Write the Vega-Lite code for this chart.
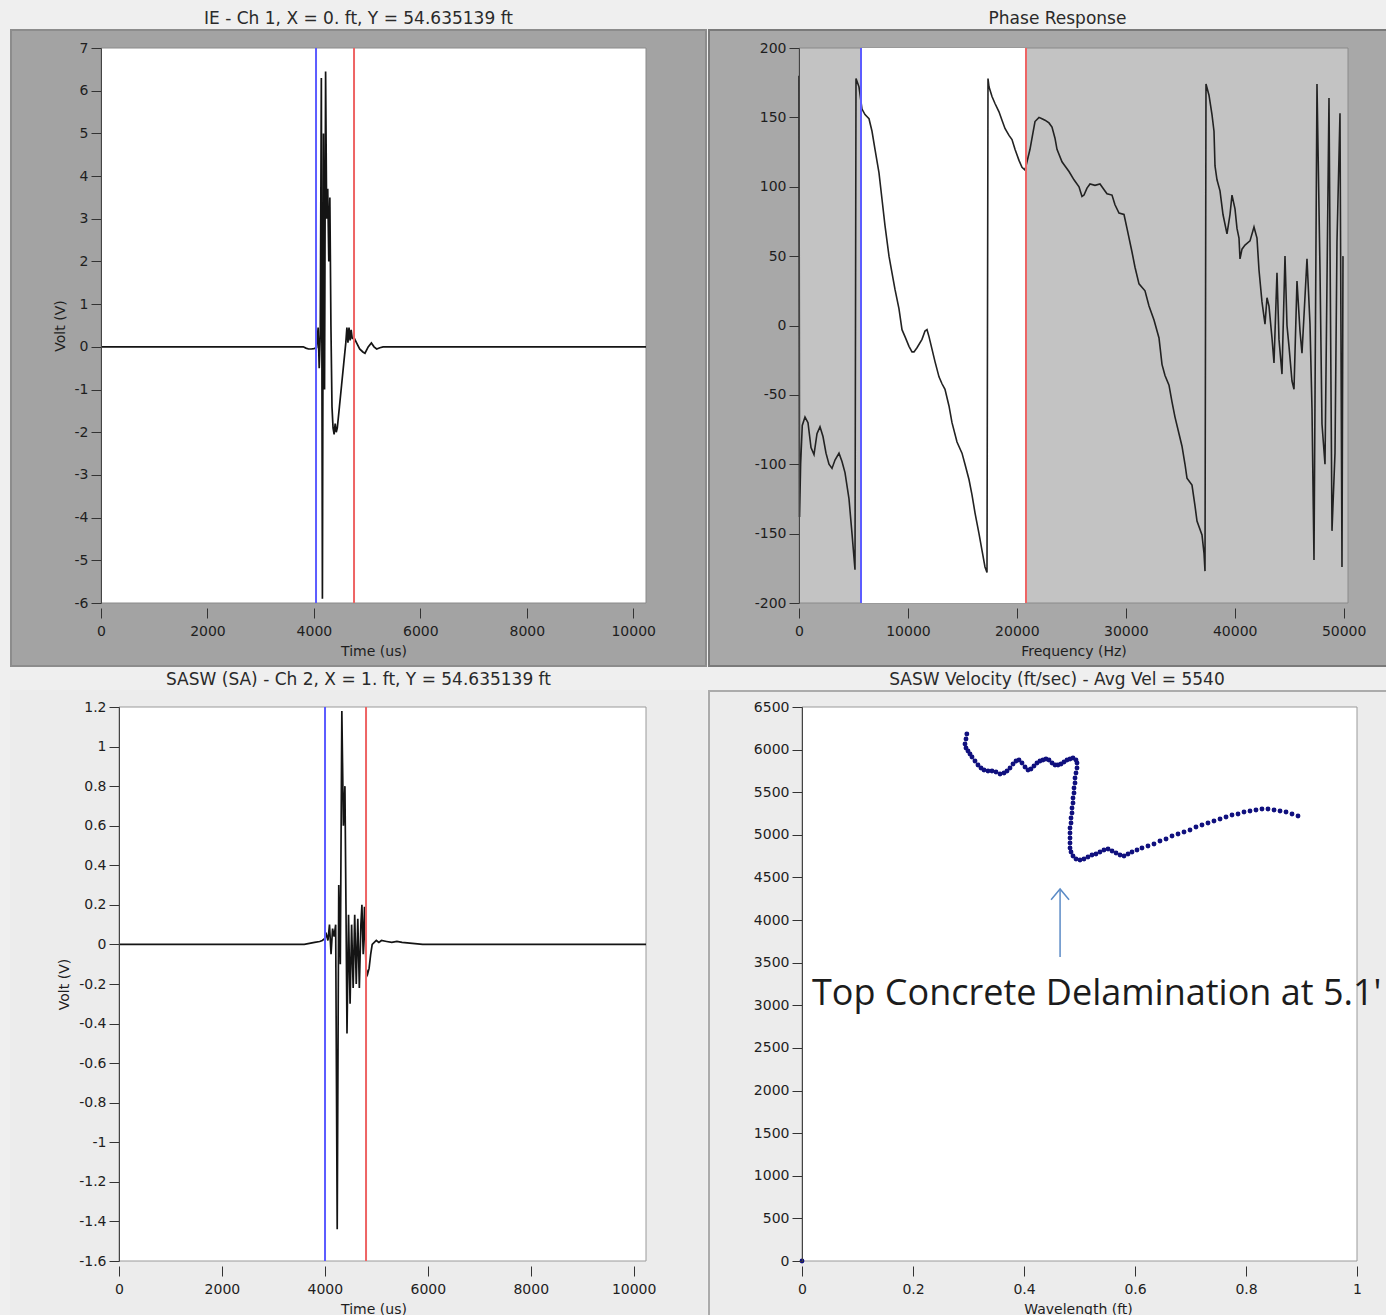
{
"$schema": "https://vega.github.io/schema/vega-lite/v6.json",
"background": "#efefef",
"padding": {"left": 9, "top": 10, "right": 0, "bottom": 0},
"columns": 2,
"align": "each",
"spacing": {"row": 2, "column": 0},
"config": {
  "view": {"stroke": null},
  "axis": {"grid": false, "labelFont": "DejaVu Sans", "labelFontSize": 14, "labelColor": "#1e1e1e", "titleFont": "DejaVu Sans", "titleFontSize": 14, "titleFontWeight": "normal", "titleColor": "#1e1e1e", "tickColor": "#333333", "tickSize": 10, "labelPadding": 3, "domainColor": "#444444", "labelOverlap": false, "labelFlush": false},
  "axisX": {"domain": false, "offset": 5, "labelPadding": 6, "titlePadding": 6},
  "axisY": {"titlePadding": 7, "labelOverlap": false},
  "axisQuantitative": {"labelOverlap": false},
  "title": {"font": "DejaVu Sans", "fontSize": 17, "fontWeight": "normal", "color": "#2a2a2a", "offset": 1}
},
"concat": [
  {"width": 545, "height": 555,
   "title": {"text": "IE - Ch 1, X = 0. ft, Y = 54.635139 ft", "dx": -15},
   "layer": [
    {"data": {"values": [{}]}, "mark": {"type": "rect", "color": "#a3a3a3", "stroke": "#8c8c8c", "strokeWidth": 2},
     "encoding": {"x": {"datum": -1691, "type": "quantitative", "scale": {"domain": [0, 10240], "nice": false, "zero": false}, "axis": {"zindex": 1, "labelOverlap": false, "title": "Time (us)", "values": [0,2000,4000,6000,8000,10000], "format": "d"}}, "x2": {"datum": 11367},
                  "y": {"datum": -7.4757, "type": "quantitative", "scale": {"domain": [-6, 7], "nice": false, "zero": false}, "axis": {"zindex": 1, "labelOverlap": false, "title": "Volt (V)", "values": [-6,-5,-4,-3,-2,-1,0,1,2,3,4,5,6,7], "format": "d", "labelExpr": "replace(datum.label, '\u2212', '-')"}}, "y2": {"datum": 7.4216}}},
    {"data": {"values": [{}]}, "mark": {"type": "rect", "color": "#ffffff", "stroke": "#8a8a8a", "strokeWidth": 1},
     "encoding": {"x": {"datum": 0, "type": "quantitative", "scale": {"domain": [0, 10240], "nice": false, "zero": false}}, "x2": {"datum": 10240},
                  "y": {"datum": -6, "type": "quantitative", "scale": {"domain": [-6, 7], "nice": false, "zero": false}}, "y2": {"datum": 7}}},
    {"data": {"values": [
      {"t":0,"v":0},{"t":3800,"v":0},{"t":3850,"v":-0.03},{"t":3900,"v":-0.05},{"t":3950,"v":-0.05},{"t":4000,"v":-0.04},{"t":4050,"v":-0.02},{"t":4080,"v":0.45},{"t":4100,"v":-0.5},{"t":4120,"v":0.3},{"t":4140,"v":6.3},{"t":4160,"v":-5.9},{"t":4180,"v":5.0},{"t":4200,"v":-1.0},{"t":4220,"v":6.45},{"t":4240,"v":3.0},{"t":4260,"v":3.7},{"t":4280,"v":2.0},{"t":4300,"v":3.5},{"t":4320,"v":0.5},{"t":4340,"v":-1.4},{"t":4360,"v":-1.9},{"t":4380,"v":-2.05},{"t":4400,"v":-1.8},{"t":4420,"v":-2.0},{"t":4440,"v":-1.9},{"t":4480,"v":-1.4},{"t":4520,"v":-0.9},{"t":4560,"v":-0.4},{"t":4600,"v":0.1},{"t":4620,"v":0.45},{"t":4640,"v":0.1},{"t":4660,"v":0.45},{"t":4680,"v":0.15},{"t":4700,"v":0.4},{"t":4720,"v":0.2},{"t":4760,"v":0.2},{"t":4800,"v":0.1},{"t":4860,"v":-0.05},{"t":4920,"v":-0.12},{"t":4960,"v":-0.15},{"t":5020,"v":0.0},{"t":5080,"v":0.09},{"t":5130,"v":0.0},{"t":5180,"v":-0.05},{"t":5240,"v":-0.02},{"t":5300,"v":0.0},{"t":10240,"v":0}
     ]},
     "mark": {"type": "line", "color": "#141414", "strokeWidth": 1.7},
     "encoding": {"x": {"field": "t", "type": "quantitative", "scale": {"domain": [0, 10240], "nice": false, "zero": false}},
                  "y": {"field": "v", "type": "quantitative", "scale": {"domain": [-6, 7], "nice": false, "zero": false}}}},
    {"data": {"values": [{"t": 4040}]}, "mark": {"type": "rule", "color": "#5c5cff", "strokeWidth": 2},
     "encoding": {"x": {"field": "t", "type": "quantitative", "scale": {"domain": [0, 10240], "nice": false, "zero": false}}}},
    {"data": {"values": [{"t": 4754}]}, "mark": {"type": "rule", "color": "#ee6464", "strokeWidth": 2},
     "encoding": {"x": {"field": "t", "type": "quantitative", "scale": {"domain": [0, 10240], "nice": false, "zero": false}}}}
   ]},
  {"width": 549, "height": 555,
   "title": {"text": "Phase Response", "dx": -16},
   "layer": [
    {"data": {"values": [{}]}, "mark": {"type": "rect", "color": "#a8a8a8", "stroke": "#7a7a7a", "strokeWidth": 2},
     "encoding": {"x": {"datum": -8262, "type": "quantitative", "scale": {"domain": [0, 50400], "nice": false, "zero": false}, "axis": {"zindex": 1, "labelOverlap": false, "title": "Frequency (Hz)", "values": [0,10000,20000,30000,40000,50000], "format": "d"}}, "x2": {"datum": 54071},
                  "y": {"datum": -245.41, "type": "quantitative", "scale": {"domain": [-200, 200], "nice": false, "zero": false}, "axis": {"zindex": 1, "labelOverlap": false, "title": null, "values": [-200,-150,-100,-50,0,50,100,150,200], "format": "d", "labelExpr": "replace(datum.label, '\u2212', '-')"}}, "y2": {"datum": 212.97}}},
    {"data": {"values": [{}]}, "mark": {"type": "rect", "color": "#c3c3c3", "stroke": "#8a8a8a", "strokeWidth": 1},
     "encoding": {"x": {"datum": 0, "type": "quantitative", "scale": {"domain": [0, 50400], "nice": false, "zero": false}}, "x2": {"datum": 50400},
                  "y": {"datum": -200, "type": "quantitative", "scale": {"domain": [-200, 200], "nice": false, "zero": false}}, "y2": {"datum": 200}}},
    {"data": {"values": [{}]}, "mark": {"type": "rect", "color": "#ffffff"},
     "encoding": {"x": {"datum": 5692, "type": "quantitative", "scale": {"domain": [0, 50400], "nice": false, "zero": false}}, "x2": {"datum": 20839},
                  "y": {"datum": -200, "type": "quantitative", "scale": {"domain": [-200, 200], "nice": false, "zero": false}}, "y2": {"datum": 200}}},
    {"data": {"values": [
      {"f":0,"p":180},{"f":50,"p":-138},{"f":150,"p":-100},{"f":300,"p":-72},{"f":551,"p":-66},{"f":826,"p":-70},{"f":1102,"p":-88},{"f":1377,"p":-93},{"f":1652,"p":-78},{"f":1928,"p":-73},{"f":2203,"p":-80},{"f":2479,"p":-92},{"f":2754,"p":-100},{"f":3029,"p":-103},{"f":3305,"p":-97},{"f":3672,"p":-92},{"f":3947,"p":-98},{"f":4223,"p":-106},{"f":4590,"p":-125},{"f":4866,"p":-150},{"f":5141,"p":-176},{"f":5233,"p":178},{"f":5508,"p":172},{"f":5784,"p":156},{"f":6059,"p":152},{"f":6426,"p":149},{"f":6702,"p":140},{"f":6977,"p":127},{"f":7344,"p":110},{"f":7620,"p":91},{"f":7895,"p":72},{"f":8262,"p":50},{"f":8538,"p":38},{"f":8813,"p":26},{"f":9180,"p":12},{"f":9456,"p":-3},{"f":9731,"p":-8},{"f":10098,"p":-15},{"f":10374,"p":-19},{"f":10557,"p":-19},{"f":10833,"p":-16},{"f":11292,"p":-10},{"f":11567,"p":-4},{"f":11751,"p":-3},{"f":11934,"p":-8},{"f":12210,"p":-17},{"f":12485,"p":-26},{"f":12852,"p":-37},{"f":13128,"p":-42},{"f":13403,"p":-46},{"f":13770,"p":-58},{"f":14046,"p":-70},{"f":14505,"p":-84},{"f":14964,"p":-92},{"f":15239,"p":-100},{"f":15606,"p":-111},{"f":15882,"p":-122},{"f":16157,"p":-135},{"f":16524,"p":-150},{"f":16800,"p":-162},{"f":17075,"p":-174},{"f":17259,"p":-178},{"f":17351,"p":178},{"f":17442,"p":172},{"f":17718,"p":165},{"f":17993,"p":160},{"f":18360,"p":154},{"f":18636,"p":148},{"f":18911,"p":142},{"f":19278,"p":137},{"f":19554,"p":134},{"f":19829,"p":127},{"f":20196,"p":119},{"f":20472,"p":114},{"f":20747,"p":112},{"f":20931,"p":118},{"f":21206,"p":127},{"f":21390,"p":135},{"f":21665,"p":147},{"f":22032,"p":150},{"f":22308,"p":149},{"f":22583,"p":148},{"f":22950,"p":146},{"f":23226,"p":143},{"f":23501,"p":135},{"f":23685,"p":127},{"f":24144,"p":118},{"f":24420,"p":115},{"f":24787,"p":111},{"f":25246,"p":105},{"f":25705,"p":100},{"f":25980,"p":93},{"f":26164,"p":94},{"f":26439,"p":99},{"f":26715,"p":102},{"f":27173,"p":101},{"f":27632,"p":102},{"f":28091,"p":97},{"f":28275,"p":95},{"f":28734,"p":94},{"f":29009,"p":87},{"f":29377,"p":81},{"f":29836,"p":80},{"f":30111,"p":70},{"f":30570,"p":53},{"f":30846,"p":42},{"f":31213,"p":30},{"f":31764,"p":25},{"f":32131,"p":14},{"f":32590,"p":4},{"f":33049,"p":-9},{"f":33324,"p":-28},{"f":33600,"p":-36},{"f":33967,"p":-43},{"f":34242,"p":-55},{"f":34518,"p":-66},{"f":34885,"p":-78},{"f":35160,"p":-87},{"f":35436,"p":-100},{"f":35619,"p":-110},{"f":36078,"p":-115},{"f":36354,"p":-130},{"f":36537,"p":-141},{"f":36996,"p":-151},{"f":37180,"p":-164},{"f":37272,"p":-177},{"f":37364,"p":174},{"f":37639,"p":166},{"f":37914,"p":152},{"f":38098,"p":140},{"f":38190,"p":115},{"f":38373,"p":105},{"f":38649,"p":97},{"f":38925,"p":80},{"f":39291,"p":66},{"f":39567,"p":80},{"f":39750,"p":94},{"f":40026,"p":84},{"f":40209,"p":70},{"f":40393,"p":63},{"f":40485,"p":48},{"f":40668,"p":55},{"f":40944,"p":58},{"f":41403,"p":61},{"f":41770,"p":71},{"f":42045,"p":63},{"f":42229,"p":40},{"f":42504,"p":17},{"f":42780,"p":1},{"f":42963,"p":20},{"f":43147,"p":14},{"f":43422,"p":-9},{"f":43606,"p":-27},{"f":43881,"p":38},{"f":44065,"p":-10},{"f":44340,"p":-35},{"f":44616,"p":50},{"f":44799,"p":0},{"f":44983,"p":-15},{"f":45258,"p":-40},{"f":45442,"p":-46},{"f":45717,"p":32},{"f":45993,"p":-4},{"f":46176,"p":-20},{"f":46360,"p":7},{"f":46635,"p":48},{"f":46911,"p":1},{"f":47094,"p":-60},{"f":47278,"p":-169},{"f":47553,"p":174},{"f":47829,"p":40},{"f":48012,"p":-71},{"f":48288,"p":-100},{"f":48655,"p":164},{"f":48930,"p":-148},{"f":49206,"p":-92},{"f":49389,"p":60},{"f":49665,"p":153},{"f":49848,"p":-174},{"f":49940,"p":50}
     ]},
     "mark": {"type": "line", "color": "#222222", "strokeWidth": 1.6},
     "encoding": {"x": {"field": "f", "type": "quantitative", "scale": {"domain": [0, 50400], "nice": false, "zero": false}},
                  "y": {"field": "p", "type": "quantitative", "scale": {"domain": [-200, 200], "nice": false, "zero": false}}}},
    {"data": {"values": [{"f": 5692}]}, "mark": {"type": "rule", "color": "#5c5cff", "strokeWidth": 2},
     "encoding": {"x": {"field": "f", "type": "quantitative", "scale": {"domain": [0, 50400], "nice": false, "zero": false}}}},
    {"data": {"values": [{"f": 20839}]}, "mark": {"type": "rule", "color": "#ee6464", "strokeWidth": 2},
     "encoding": {"x": {"field": "f", "type": "quantitative", "scale": {"domain": [0, 50400], "nice": false, "zero": false}}}}
   ]},
  {"width": 545, "height": 554,
   "title": {"text": "SASW (SA) - Ch 2, X = 1. ft, Y = 54.635139 ft", "dx": -15},
   "layer": [
    {"data": {"values": [{}]}, "mark": {"type": "rect", "color": "#ececec", "stroke": "#ececec", "strokeWidth": 2},
     "encoding": {"x": {"datum": -2098.6, "type": "quantitative", "scale": {"domain": [-349.8, 10240], "nice": false, "zero": false}, "axis": {"zindex": 1, "labelOverlap": false, "title": "Time (us)", "values": [0,2000,4000,6000,8000,10000], "format": "d"}}, "x2": {"datum": 11405.8},
                  "y": {"datum": -1.9437, "type": "quantitative", "scale": {"domain": [-1.6, 1.2], "nice": false, "zero": false}, "axis": {"zindex": 1, "labelOverlap": false, "labelSeparation": -60, "tickCount": 15, "offset": -18, "title": "Volt (V)", "values": [-1.6,-1.4,-1.2,-1,-0.8,-0.6,-0.4,-0.2,0,0.2,0.4,0.6,0.8,1,1.2], "format": ".1~f", "labelExpr": "replace(datum.label, '\u2212', '-')"}}, "y2": {"datum": 1.2809}}},
    {"data": {"values": [{}]}, "mark": {"type": "rect", "color": "#ffffff", "stroke": "#9a9a9a", "strokeWidth": 1},
     "encoding": {"x": {"datum": 0, "type": "quantitative", "scale": {"domain": [-349.8, 10240], "nice": false, "zero": false}}, "x2": {"datum": 10240},
                  "y": {"datum": -1.6, "type": "quantitative", "scale": {"domain": [-1.6, 1.2], "nice": false, "zero": false}}, "y2": {"datum": 1.2}}},
    {"data": {"values": [
      {"t":0,"v":0},{"t":3600,"v":0},{"t":3700,"v":0.005},{"t":3800,"v":0.01},{"t":3900,"v":0.015},{"t":3950,"v":0.02},{"t":4000,"v":0.03},{"t":4030,"v":0.05},{"t":4060,"v":0.02},{"t":4090,"v":0.1},{"t":4120,"v":-0.05},{"t":4150,"v":0.08},{"t":4180,"v":0.04},{"t":4210,"v":0.1},{"t":4240,"v":-1.44},{"t":4270,"v":0.3},{"t":4300,"v":-0.1},{"t":4330,"v":1.18},{"t":4360,"v":0.6},{"t":4390,"v":0.8},{"t":4410,"v":0.2},{"t":4430,"v":-0.45},{"t":4460,"v":0.15},{"t":4490,"v":-0.3},{"t":4520,"v":0.1},{"t":4550,"v":-0.22},{"t":4580,"v":0.15},{"t":4610,"v":-0.2},{"t":4640,"v":0.13},{"t":4670,"v":-0.22},{"t":4700,"v":0.1},{"t":4720,"v":0.2},{"t":4745,"v":-0.05},{"t":4770,"v":0.19},{"t":4800,"v":-0.12},{"t":4830,"v":-0.15},{"t":4860,"v":-0.12},{"t":4890,"v":-0.05},{"t":4920,"v":0.0},{"t":4960,"v":0.01},{"t":5000,"v":0.02},{"t":5050,"v":0.01},{"t":5100,"v":0.02},{"t":5200,"v":0.015},{"t":5300,"v":0.01},{"t":5400,"v":0.015},{"t":5500,"v":0.01},{"t":5700,"v":0.005},{"t":5900,"v":0},{"t":10240,"v":0}
     ]},
     "mark": {"type": "line", "color": "#141414", "strokeWidth": 1.7},
     "encoding": {"x": {"field": "t", "type": "quantitative", "scale": {"domain": [-349.8, 10240], "nice": false, "zero": false}},
                  "y": {"field": "v", "type": "quantitative", "scale": {"domain": [-1.6, 1.2], "nice": false, "zero": false}}}},
    {"data": {"values": [{"t": 4003}]}, "mark": {"type": "rule", "color": "#5c5cff", "strokeWidth": 2},
     "encoding": {"x": {"field": "t", "type": "quantitative", "scale": {"domain": [-349.8, 10240], "nice": false, "zero": false}}}},
    {"data": {"values": [{"t": 4800}]}, "mark": {"type": "rule", "color": "#ee6464", "strokeWidth": 2},
     "encoding": {"x": {"field": "t", "type": "quantitative", "scale": {"domain": [-349.8, 10240], "nice": false, "zero": false}}}}
   ]},
  {"width": 558, "height": 554,
   "title": {"text": "SASW Velocity (ft/sec) - Avg Vel = 5540", "dx": -21},
   "layer": [
    {"data": {"values": [{}]}, "mark": {"type": "rect", "color": "#ececec", "stroke": "#ababab", "strokeWidth": 2},
     "encoding": {"x": {"datum": -0.16757, "type": "quantitative", "scale": {"domain": [-0.0054054, 1], "nice": false, "zero": false}, "axis": {"zindex": 1, "labelOverlap": false, "title": "Wavelength (ft)", "values": [0,0.2,0.4,0.6,0.8,1], "format": ".1~f"}}, "x2": {"datum": 1.05585},
                  "y": {"datum": -797.8, "type": "quantitative", "scale": {"domain": [0, 6500], "nice": false, "zero": false}, "axis": {"zindex": 1, "labelOverlap": false, "offset": -3, "title": null, "values": [0,500,1000,1500,2000,2500,3000,3500,4000,4500,5000,5500,6000,6500], "format": "d"}}, "y2": {"datum": 6687.7}}},
    {"data": {"values": [{}]}, "mark": {"type": "rect", "color": "#ffffff", "stroke": "#9a9a9a", "strokeWidth": 1},
     "encoding": {"x": {"datum": 0, "type": "quantitative", "scale": {"domain": [-0.0054054, 1], "nice": false, "zero": false}}, "x2": {"datum": 1},
                  "y": {"datum": 0, "type": "quantitative", "scale": {"domain": [0, 6500], "nice": false, "zero": false}}, "y2": {"datum": 6500}}},
    {"data": {"values": [
      {"w":0,"v":0},{"w":0.297,"v":6183},{"w":0.2955,"v":6125},{"w":0.2937,"v":6066},{"w":0.2955,"v":6019},{"w":0.2991,"v":5984},{"w":0.3027,"v":5948},{"w":0.3063,"v":5913},{"w":0.3117,"v":5866},{"w":0.3171,"v":5819},{"w":0.3225,"v":5784},{"w":0.3279,"v":5761},{"w":0.3351,"v":5749},{"w":0.3423,"v":5749},{"w":0.3495,"v":5737},{"w":0.3568,"v":5714},{"w":0.364,"v":5726},{"w":0.3694,"v":5749},{"w":0.3748,"v":5784},{"w":0.3802,"v":5831},{"w":0.3856,"v":5866},{"w":0.391,"v":5878},{"w":0.3964,"v":5843},{"w":0.4018,"v":5796},{"w":0.4072,"v":5761},{"w":0.4126,"v":5773},{"w":0.418,"v":5808},{"w":0.4234,"v":5843},{"w":0.4288,"v":5866},{"w":0.4342,"v":5878},{"w":0.4396,"v":5890},{"w":0.445,"v":5878},{"w":0.4505,"v":5843},{"w":0.4559,"v":5819},{"w":0.4613,"v":5819},{"w":0.4667,"v":5831},{"w":0.4721,"v":5855},{"w":0.4775,"v":5878},{"w":0.4829,"v":5890},{"w":0.4883,"v":5902},{"w":0.4937,"v":5878},{"w":0.4955,"v":5843},{"w":0.4955,"v":5784},{"w":0.4937,"v":5726},{"w":0.4919,"v":5667},{"w":0.4919,"v":5608},{"w":0.4901,"v":5550},{"w":0.4901,"v":5491},{"w":0.4883,"v":5432},{"w":0.4883,"v":5374},{"w":0.4865,"v":5315},{"w":0.4865,"v":5256},{"w":0.4847,"v":5198},{"w":0.4847,"v":5139},{"w":0.4829,"v":5080},{"w":0.4829,"v":5022},{"w":0.4829,"v":4963},{"w":0.4829,"v":4904},{"w":0.4829,"v":4846},{"w":0.4847,"v":4799},{"w":0.4883,"v":4752},{"w":0.4937,"v":4717},{"w":0.5009,"v":4705},{"w":0.5081,"v":4717},{"w":0.5153,"v":4740},{"w":0.5225,"v":4764},{"w":0.5297,"v":4776},{"w":0.5369,"v":4799},{"w":0.5441,"v":4822},{"w":0.5514,"v":4834},{"w":0.5586,"v":4811},{"w":0.5658,"v":4787},{"w":0.573,"v":4764},{"w":0.5802,"v":4752},{"w":0.5874,"v":4776},{"w":0.5946,"v":4799},{"w":0.6036,"v":4822},{"w":0.6126,"v":4846},{"w":0.6234,"v":4869},{"w":0.6342,"v":4893},{"w":0.645,"v":4928},{"w":0.6559,"v":4951},{"w":0.6667,"v":4986},{"w":0.6775,"v":5010},{"w":0.6883,"v":5033},{"w":0.6991,"v":5057},{"w":0.7099,"v":5092},{"w":0.7207,"v":5116},{"w":0.7315,"v":5139},{"w":0.7423,"v":5162},{"w":0.7532,"v":5186},{"w":0.764,"v":5209},{"w":0.7748,"v":5233},{"w":0.7856,"v":5245},{"w":0.7964,"v":5268},{"w":0.8072,"v":5280},{"w":0.818,"v":5292},{"w":0.8288,"v":5303},{"w":0.8396,"v":5303},{"w":0.8505,"v":5292},{"w":0.8613,"v":5280},{"w":0.8721,"v":5268},{"w":0.8829,"v":5245},{"w":0.8937,"v":5221}
     ]},
     "mark": {"type": "point", "filled": true, "size": 24, "color": "#10107e", "opacity": 1},
     "encoding": {"x": {"field": "w", "type": "quantitative", "scale": {"domain": [-0.0054054, 1], "nice": false, "zero": false}},
                  "y": {"field": "v", "type": "quantitative", "scale": {"domain": [0, 6500], "nice": false, "zero": false}}}},
    {"data": {"values": [{"w": 0.465, "v1": 3567, "v2": 4365}]}, "mark": {"type": "rule", "color": "#5b8bc6", "strokeWidth": 1.5},
     "encoding": {"x": {"field": "w", "type": "quantitative", "scale": {"domain": [-0.0054054, 1], "nice": false, "zero": false}},
                  "y": {"field": "v1", "type": "quantitative", "scale": {"domain": [0, 6500], "nice": false, "zero": false}}, "y2": {"field": "v2"}}},
    {"data": {"values": [{"w": 0.465, "v": 4365}]}, "mark": {"type": "point", "shape": "M-1,1.2L0,0L1,1.2", "filled": false, "size": 324, "color": "#5b8bc6", "strokeWidth": 1.5, "opacity": 1},
     "encoding": {"x": {"field": "w", "type": "quantitative", "scale": {"domain": [-0.0054054, 1], "nice": false, "zero": false}},
                  "y": {"field": "v", "type": "quantitative", "scale": {"domain": [0, 6500], "nice": false, "zero": false}}}},
    {"data": {"values": [{"w": 0.018, "v": 3004, "label": "Top Concrete Delamination at 5.1'"}]}, "mark": {"type": "text", "font": "Open Sans", "fontSize": 36, "align": "left", "baseline": "alphabetic", "color": "#1c1c1c"},
     "encoding": {"x": {"field": "w", "type": "quantitative", "scale": {"domain": [-0.0054054, 1], "nice": false, "zero": false}},
                  "y": {"field": "v", "type": "quantitative", "scale": {"domain": [0, 6500], "nice": false, "zero": false}},
                  "text": {"field": "label"}}}
   ]}
]
}
